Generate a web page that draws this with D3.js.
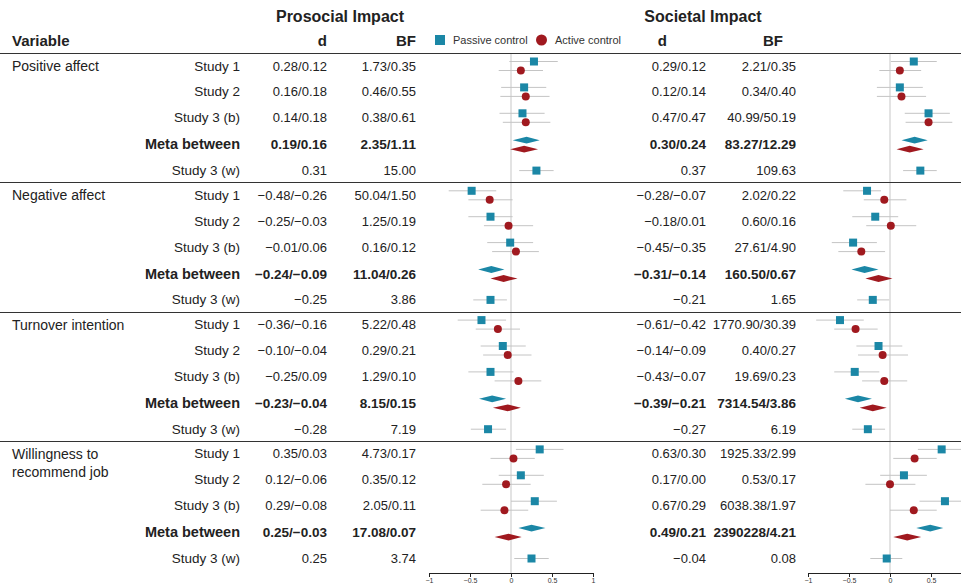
<!DOCTYPE html>
<html>
<head>
<meta charset="utf-8">
<script src="https://cdn.jsdelivr.net/npm/d3@7"></script>
<style>
  body { margin: 0; background: #fff; font-family: "Liberation Sans", Arial, Helvetica, sans-serif; }
  svg { display: block; }
</style>
</head>
<body>
<svg id="chart"></svg>
<script>
// variables and study rows
let variables = ["Positive affect", "Negative affect", "Turnover intention", "Willingness to recommend job"]
let studies = ["Study 1", "Study 2", "Study 3 (b)", "Meta between", "Study 3 (w)"]

// table text, per variable, per study
let prosocialD = [
  ["0.28/0.12", "0.16/0.18", "0.14/0.18", "0.19/0.16", "0.31"],
  ["−0.48/−0.26", "−0.25/−0.03", "−0.01/0.06", "−0.24/−0.09", "−0.25"],
  ["−0.36/−0.16", "−0.10/−0.04", "−0.25/0.09", "−0.23/−0.04", "−0.28"],
  ["0.35/0.03", "0.12/−0.06", "0.29/−0.08", "0.25/−0.03", "0.25"]
]
let prosocialBF = [
  ["1.73/0.35", "0.46/0.55", "0.38/0.61", "2.35/1.11", "15.00"],
  ["50.04/1.50", "1.25/0.19", "0.16/0.12", "11.04/0.26", "3.86"],
  ["5.22/0.48", "0.29/0.21", "1.29/0.10", "8.15/0.15", "7.19"],
  ["4.73/0.17", "0.35/0.12", "2.05/0.11", "17.08/0.07", "3.74"]
]
let societalD = [
  ["0.29/0.12", "0.12/0.14", "0.47/0.47", "0.30/0.24", "0.37"],
  ["−0.28/−0.07", "−0.18/0.01", "−0.45/−0.35", "−0.31/−0.14", "−0.21"],
  ["−0.61/−0.42", "−0.14/−0.09", "−0.43/−0.07", "−0.39/−0.21", "−0.27"],
  ["0.63/0.30", "0.17/0.00", "0.67/0.29", "0.49/0.21", "−0.04"]
]
let societalBF = [
  ["2.21/0.35", "0.34/0.40", "40.99/50.19", "83.27/12.29", "109.63"],
  ["2.02/0.22", "0.60/0.16", "27.61/4.90", "160.50/0.67", "1.65"],
  ["1770.90/30.39", "0.40/0.27", "19.69/0.23", "7314.54/3.86", "6.19"],
  ["1925.33/2.99", "0.53/0.17", "6038.38/1.97", "2390228/4.21", "0.08"]
]

// estimates [d, lower, upper]; null where no active control row
let prosocialPassive = [
  [[0.28, -0.02, 0.57], [0.16, -0.12, 0.43], [0.14, -0.14, 0.41], [0.19, 0.02, 0.35], [0.31, 0.10, 0.52]],
  [[-0.48, -0.76, -0.18], [-0.25, -0.52, 0.02], [-0.01, -0.29, 0.27], [-0.24, -0.40, -0.08], [-0.25, -0.46, -0.05]],
  [[-0.36, -0.65, -0.06], [-0.10, -0.37, 0.18], [-0.25, -0.52, 0.03], [-0.23, -0.39, -0.06], [-0.28, -0.49, -0.06]],
  [[0.35, 0.06, 0.64], [0.12, -0.15, 0.40], [0.29, 0.00, 0.56], [0.25, 0.09, 0.42], [0.25, 0.04, 0.46]]
]
let prosocialActive = [
  [[0.12, -0.15, 0.39], [0.18, -0.13, 0.47], [0.18, -0.10, 0.48], [0.16, -0.01, 0.33], null],
  [[-0.26, -0.52, 0.02], [-0.03, -0.33, 0.27], [0.06, -0.23, 0.34], [-0.09, -0.25, 0.08], null],
  [[-0.16, -0.43, 0.11], [-0.04, -0.34, 0.25], [0.09, -0.20, 0.37], [-0.04, -0.22, 0.12], null],
  [[0.03, -0.25, 0.29], [-0.06, -0.35, 0.24], [-0.08, -0.37, 0.21], [-0.03, -0.20, 0.13], null]
]
let societalPassive = [
  [[0.29, 0.01, 0.57], [0.12, -0.16, 0.40], [0.47, 0.18, 0.73], [0.30, 0.14, 0.46], [0.37, 0.16, 0.57]],
  [[-0.28, -0.57, -0.11], [-0.18, -0.46, 0.10], [-0.45, -0.71, -0.16], [-0.31, -0.47, -0.14], [-0.21, -0.40, -0.01]],
  [[-0.61, -0.90, -0.32], [-0.14, -0.41, 0.15], [-0.43, -0.68, -0.13], [-0.39, -0.55, -0.22], [-0.27, -0.46, -0.06]],
  [[0.63, 0.34, 0.92], [0.17, -0.12, 0.45], [0.67, 0.36, 0.95], [0.49, 0.32, 0.65], [-0.04, -0.24, 0.15]]
]
let societalActive = [
  [[0.12, -0.13, 0.38], [0.14, -0.16, 0.44], [0.47, 0.19, 0.76], [0.24, 0.08, 0.41], null],
  [[-0.07, -0.32, 0.20], [0.01, -0.29, 0.32], [-0.35, -0.63, -0.06], [-0.14, -0.30, 0.03], null],
  [[-0.42, -0.68, -0.15], [-0.09, -0.39, 0.22], [-0.07, -0.34, 0.21], [-0.21, -0.37, -0.04], null],
  [[0.30, 0.04, 0.57], [0.00, -0.30, 0.31], [0.29, 0.00, 0.57], [0.21, 0.04, 0.38], null]
]

let prosocialTicks = [-1, -0.5, 0, 0.5, 1]
let societalTicks = [-1, -0.5, 0, 0.5]  // 1 falls past the page edge

const width = 961, height = 587
const passiveColor = "#1b87a6", activeColor = "#a0191f"
const textColor = "#222"

let svg = d3.select("#chart").attr("width", width).attr("height", height)
  .style("font-family", '"Liberation Sans", Arial, Helvetica, sans-serif')

// layout
let headerLine = 53
let sectionH = 129.3
let rowTop = 13, rowStep = 25.9
let rowY = (v, s) => headerLine + v * sectionH + rowTop + s * rowStep + (s >= 3 ? 1 : 0)
let axisY = 573

let xPro = d3.scaleLinear().domain([-1, 1]).range([429, 593])
let xSoc = d3.scaleLinear().domain([-1, 1]).range([808, 972])

// titles
svg.append("text").attr("x", 340).attr("y", 22).attr("text-anchor", "middle")
  .attr("font-size", 16).attr("font-weight", "bold").attr("fill", textColor).text("Prosocial Impact")
svg.append("text").attr("x", 703).attr("y", 22).attr("text-anchor", "middle")
  .attr("font-size", 16).attr("font-weight", "bold").attr("fill", textColor).text("Societal Impact")

let heads = [
  { t: "Variable", x: 12, a: "start" },
  { t: "d", x: 327, a: "end" },
  { t: "BF", x: 416, a: "end" },
  { t: "d", x: 667, a: "end" },
  { t: "BF", x: 783, a: "end" }
]
svg.selectAll(".head").data(heads).enter().append("text")
  .attr("x", d => d.x).attr("y", 46).attr("text-anchor", d => d.a)
  .attr("font-size", 15).attr("font-weight", "bold").attr("fill", textColor).text(d => d.t)

// legend
let legend = svg.append("g")
legend.append("rect").attr("x", 435).attr("y", 35).attr("width", 10).attr("height", 10).attr("fill", passiveColor)
legend.append("text").attr("x", 453).attr("y", 44).attr("font-size", 11).attr("fill", "#333").text("Passive control")
legend.append("circle").attr("cx", 541.5).attr("cy", 40).attr("r", 5.5).attr("fill", activeColor)
legend.append("text").attr("x", 555).attr("y", 44).attr("font-size", 11).attr("fill", "#333").text("Active control")

// zero lines
;[xPro, xSoc].forEach(x => {
  svg.append("line").attr("x1", x(0)).attr("x2", x(0)).attr("y1", headerLine).attr("y2", axisY)
    .attr("stroke", "#d0d0d0").attr("stroke-width", 1.2)
})

// separator lines
svg.selectAll(".sep").data([0, 1, 2, 3]).enter().append("line")
  .attr("x1", 0).attr("x2", width)
  .attr("y1", d => Math.round(headerLine + d * sectionH) + 0.5)
  .attr("y2", d => Math.round(headerLine + d * sectionH) + 0.5)
  .attr("stroke", "#333").attr("stroke-width", 1)

// variable labels
variables.forEach((v, i) => {
  let words = i === 3 ? ["Willingness to", "recommend job"] : [v]
  let t = svg.append("text").attr("x", 12).attr("y", rowY(i, 0) + 5).attr("font-size", 14).attr("fill", textColor)
  words.forEach((w, k) => t.append("tspan").attr("x", 12).attr("dy", k ? 18 : 0).text(w))
})

// table rows
variables.forEach((v, i) => {
  studies.forEach((s, j) => {
    let y = rowY(i, j) + 4.5
    let meta = j === 3
    let cells = [
      { t: s, x: 240, size: meta ? 14.5 : 13.5 },
      { t: prosocialD[i][j], x: 327, size: meta ? 13.5 : 13 },
      { t: prosocialBF[i][j], x: 416, size: meta ? 13.5 : 13 },
      { t: societalD[i][j], x: 706, size: meta ? 13.5 : 13 },
      { t: societalBF[i][j], x: 796, size: meta ? 13.5 : 13 }
    ]
    cells.forEach(c => {
      svg.append("text").attr("x", c.x).attr("y", y).attr("text-anchor", "end")
        .attr("font-size", c.size).attr("font-weight", meta ? "bold" : "normal")
        .attr("fill", textColor).text(c.t)
    })
  })
})

function drawForest(x, passive, active, ticks) {
  let g = svg.append("g")
  let rows = []
  variables.forEach((v, i) => {
    studies.forEach((s, j) => {
      let single = active[i][j] === null
      rows.push({ d: passive[i][j], y: rowY(i, j) + (single ? 0 : -4.5), kind: "passive", meta: j === 3 })
      if (!single) rows.push({ d: active[i][j], y: rowY(i, j) + 4.5, kind: "active", meta: j === 3 })
    })
  })
  let study = rows.filter(r => !r.meta)
  g.selectAll(".ci").data(study).enter().append("line")
    .attr("x1", r => x(r.d[1])).attr("x2", r => x(r.d[2]))
    .attr("y1", r => r.y).attr("y2", r => r.y)
    .attr("stroke", "#c4c4c4").attr("stroke-width", 1)
  g.selectAll(".sq").data(study.filter(r => r.kind === "passive")).enter().append("rect")
    .attr("x", r => x(r.d[0]) - 4).attr("y", r => r.y - 4)
    .attr("width", 8).attr("height", 8).attr("fill", passiveColor)
  g.selectAll(".dot").data(study.filter(r => r.kind === "active")).enter().append("circle")
    .attr("cx", r => x(r.d[0])).attr("cy", r => r.y).attr("r", 4).attr("fill", activeColor)
  g.selectAll(".dia").data(rows.filter(r => r.meta)).enter().append("path")
    .attr("d", r => `M${x(r.d[1])},${r.y}L${x(r.d[0])},${r.y - 3.4}L${x(r.d[2])},${r.y}L${x(r.d[0])},${r.y + 3.4}Z`)
    .attr("fill", r => r.kind === "passive" ? passiveColor : activeColor)

  let axis = d3.axisBottom(x).tickValues(ticks).tickSize(4).tickFormat(d3.format("~g"))
  let ag = svg.append("g").attr("transform", `translate(0,${axisY})`).call(axis)
  ag.select(".domain").attr("stroke", "#222")
  ag.selectAll(".tick line").attr("stroke", "#222")
  ag.selectAll(".tick text").attr("font-size", 7).attr("fill", "#333")
    .attr("font-family", '"Liberation Sans", Arial, sans-serif').attr("dy", "0.4em")
}

drawForest(xPro, prosocialPassive, prosocialActive, prosocialTicks)
drawForest(xSoc, societalPassive, societalActive, societalTicks)
</script>
</body>
</html>
